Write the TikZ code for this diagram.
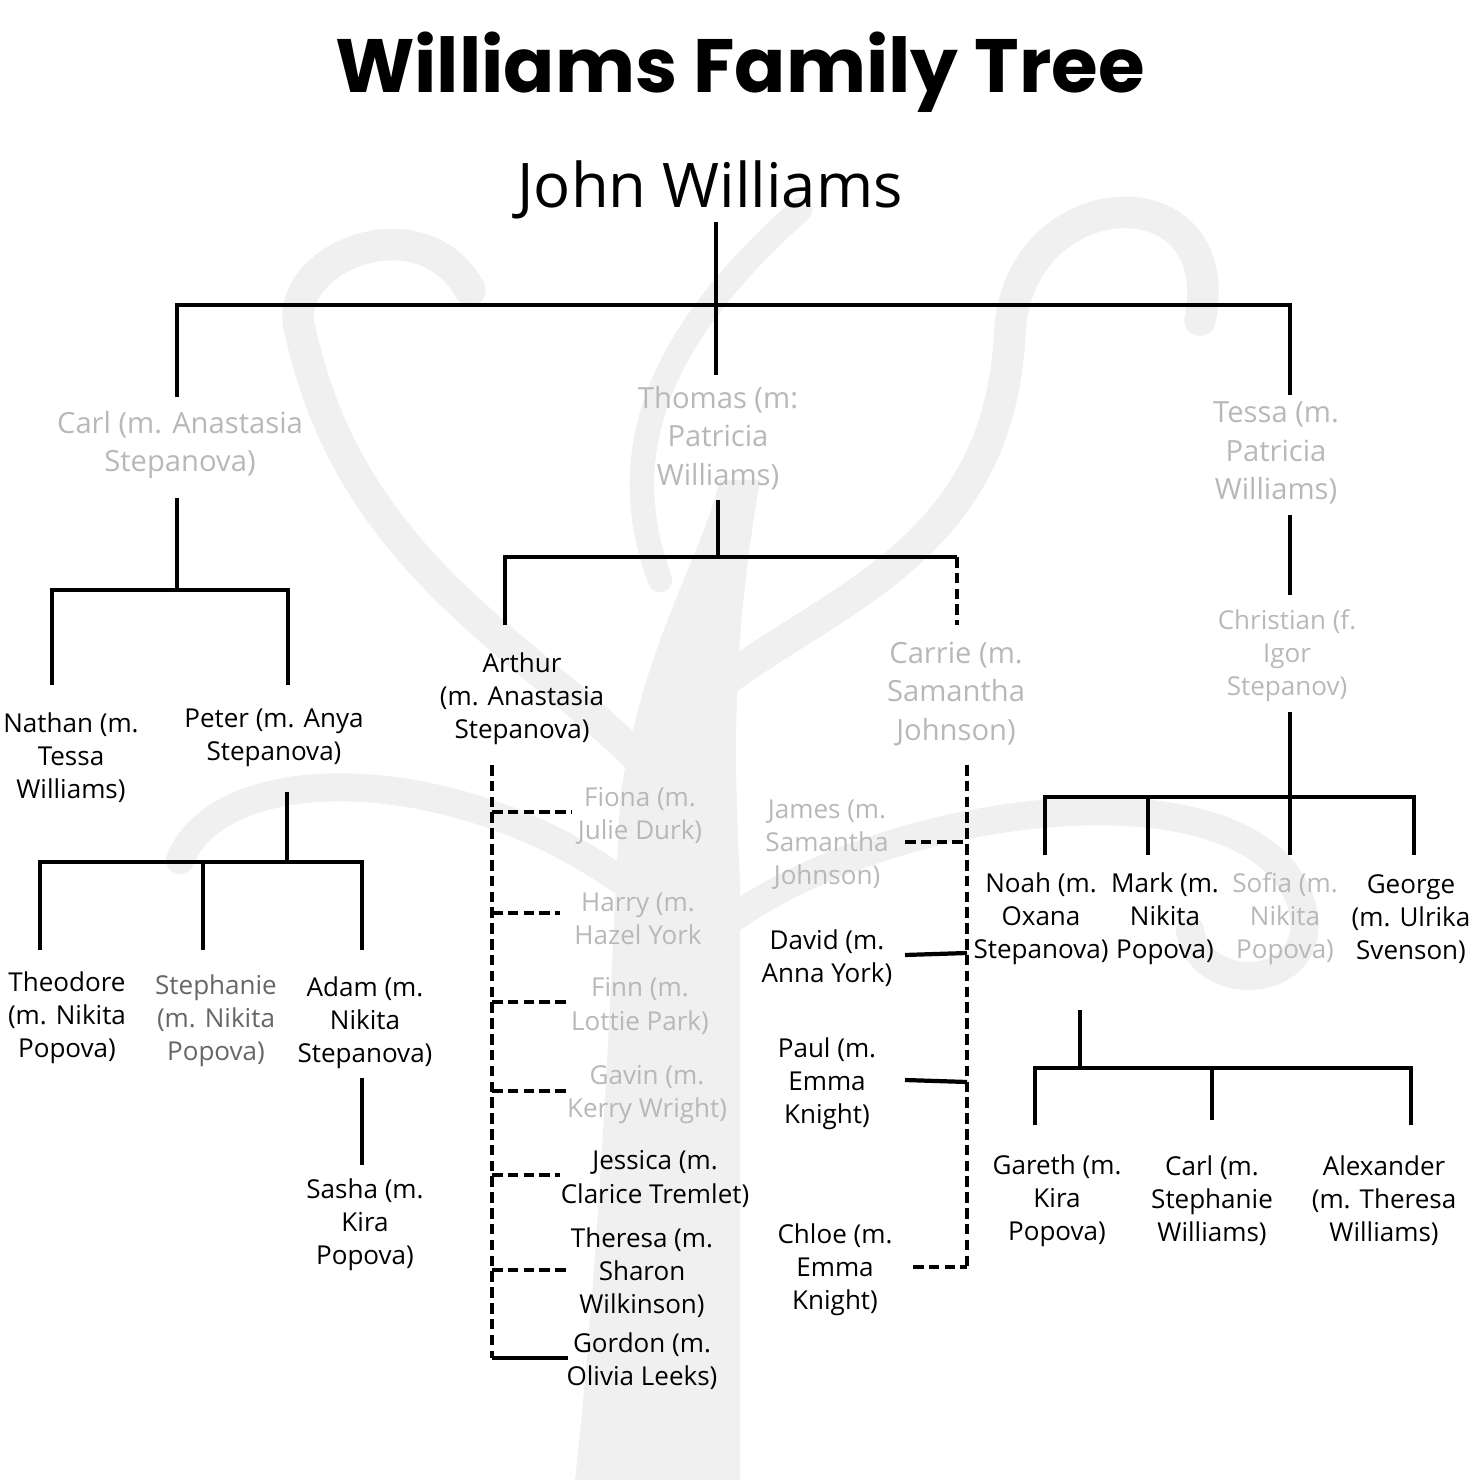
\documentclass[tikz,border=0pt]{standalone}
\usepackage{fontspec}
\setmainfont{Open Sans}
\newfontfamily\titlefont{Poppins}
\tikzset{
  person/.style={align=center, font=\fontsize{7.4}{9.4}\selectfont, inner sep=0pt},
  faint/.style={person, text=black!28},
  bigfaint/.style={faint, font=\fontsize{8.3}{11}\selectfont},
  mid/.style={person, text=black!60},
  link/.style={line width=1.2pt},
  dlink/.style={line width=1.2pt, dash pattern=on 3pt off 1.5pt},
}
\begin{document}
\begin{tikzpicture}[x=0.01cm, y=-0.01cm]
\useasboundingbox (0,0) rectangle (1480,1480);
% faint tree in the back
\begin{scope}[black!6, line cap=round]
  \fill (575,1480) .. controls (600,1250) and (610,1000) .. (620,800)
    .. controls (640,650) and (700,560) .. (720,480)
    -- (760,480) .. controls (740,600) and (730,700) .. (740,880)
    .. controls (740,1100) and (740,1300) .. (740,1480) -- cycle;
  \draw[line width=9pt] (640,760) .. controls (520,640) and (350,560) .. (300,330)
    .. controls (280,260) and (420,200) .. (470,290);
  \draw[line width=9pt] (700,700) .. controls (820,600) and (1000,560) .. (1010,330)
    .. controls (1020,180) and (1230,170) .. (1200,320);
  \draw[line width=8pt] (730,920) .. controls (900,800) and (1250,760) .. (1300,900)
    .. controls (1330,990) and (1200,1000) .. (1190,930);
  \draw[line width=8pt] (620,880) .. controls (450,760) and (220,760) .. (180,860);
  \draw[line width=7pt] (660,580) .. controls (600,420) and (700,300) .. (800,210);
\end{scope}
% titles
\node[font=\titlefont\bfseries\fontsize{21.5}{26}\selectfont] (title) at (740,72) {Williams Family Tree};
\node[font=\fontsize{17.5}{22}\selectfont] (john) at (710,190) {John Williams};
% generation 1
\node[bigfaint] (carl) at (180,445) {Carl (m. Anastasia\\Stepanova)};
\node[bigfaint] (thomas) at (718,438) {Thomas (m:\\Patricia\\Williams)};
\node[bigfaint] (tessa) at (1276,453) {Tessa (m.\\Patricia\\Williams)};
\draw[link] (716,222) -- (716,307);
\draw[link] (177,397) |- (1290,305) -- (1290,395);
\draw[link] (716,305) -- (716,375);
% Carl's line
\node[person] (nathan) at (71,758) {Nathan (m.\\Tessa\\Williams)};
\node[person] (peter) at (274,738) {Peter (m. Anya\\Stepanova)};
\draw[link] (177,498) -- (177,590);
\draw[link] (52,685) |- (288,590) -- (288,685);
\node[person] (theodore) at (67,1018) {Theodore\\(m. Nikita\\Popova)};
\node[mid] (stephanie) at (216,1021) {Stephanie\\(m. Nikita\\Popova)};
\node[person] (adam) at (365,1023) {Adam (m.\\Nikita\\Stepanova)};
\draw[link] (287,792) -- (287,862);
\draw[link] (40,950) |- (362,862) -- (362,950);
\draw[link] (203,862) -- (203,950);
\node[person] (sasha) at (365,1225) {Sasha (m.\\Kira\\Popova)};
\draw[link] (362,1078) -- (362,1165);
% Thomas's line
\node[person] (arthur) at (522,699) {Arthur\\(m. Anastasia\\Stepanova)};
\node[bigfaint] (carrie) at (956,694) {Carrie (m.\\Samantha\\Johnson)};
\draw[link] (718,500) -- (718,557);
\draw[link] (505,625) |- (957,557);
\draw[dlink] (957,557) -- (957,625);
\node[faint] (fiona) at (640,816) {Fiona (m.\\Julie Durk)};
\node[faint] (harry) at (638,919) {Harry (m.\\Hazel York};
\node[faint] (finn) at (640,1006) {Finn (m.\\Lottie Park)};
\node[faint] (gavin) at (647,1095) {Gavin (m.\\Kerry Wright)};
\node[person] (jessica) at (655,1179) {Jessica (m.\\Clarice Tremlet)};
\node[person] (theresa) at (642,1273) {Theresa (m.\\Sharon\\Wilkinson)};
\node[person] (gordon) at (642,1361) {Gordon (m.\\Olivia Leeks)};
\draw[dlink] (492,765) -- (492,1358);
\foreach \y/\e in {812/572, 913/560, 1002/568, 1091/568, 1175/560, 1270/566}
  \draw[dlink] (492,\y) -- (\e,\y);
\draw[link] (492,1358) -- (568,1358);
\node[faint] (james) at (827,845) {James (m.\\Samantha\\Johnson)};
\node[person] (david) at (827,958) {David (m.\\Anna York)};
\node[person] (paul) at (827,1084) {Paul (m.\\Emma\\Knight)};
\node[person] (chloe) at (835,1270) {Chloe (m.\\Emma\\Knight)};
\draw[dlink] (967,765) -- (967,1268);
\draw[dlink] (905,842) -- (967,842);
\draw[link] (905,955) -- (967,953);
\draw[link] (905,1080) -- (967,1082);
\draw[dlink] (913,1267) -- (967,1267);
% Tessa's line
\node[faint] (christian) at (1287,656) {Christian (f.\\Igor\\Stepanov)};
\draw[link] (1290,515) -- (1290,595);
\draw[link] (1290,712) -- (1290,797);
\node[person] (noah) at (1041,919) {Noah (m.\\Oxana\\Stepanova)};
\node[person] (mark) at (1165,919) {Mark (m.\\Nikita\\Popova)};
\node[faint] (sofia) at (1285,919) {Sofia (m.\\Nikita\\Popova)};
\node[person] (george) at (1411,919) {George\\(m. Ulrika\\Svenson)};
\draw[link] (1045,855) |- (1414,797) -- (1414,855);
\foreach \x in {1148,1290} \draw[link] (\x,797) -- (\x,855);
\node[person] (gareth) at (1057,1201) {Gareth (m.\\Kira\\Popova)};
\node[person] (carljr) at (1212,1201) {Carl (m.\\Stephanie\\Williams)};
\node[person] (alexander) at (1384,1201) {Alexander\\(m. Theresa\\Williams)};
\draw[link] (1080,1010) -- (1080,1068);
\draw[link] (1035,1125) |- (1411,1068) -- (1411,1125);
\draw[link] (1212,1068) -- (1212,1120);
\end{tikzpicture}
\end{document}
